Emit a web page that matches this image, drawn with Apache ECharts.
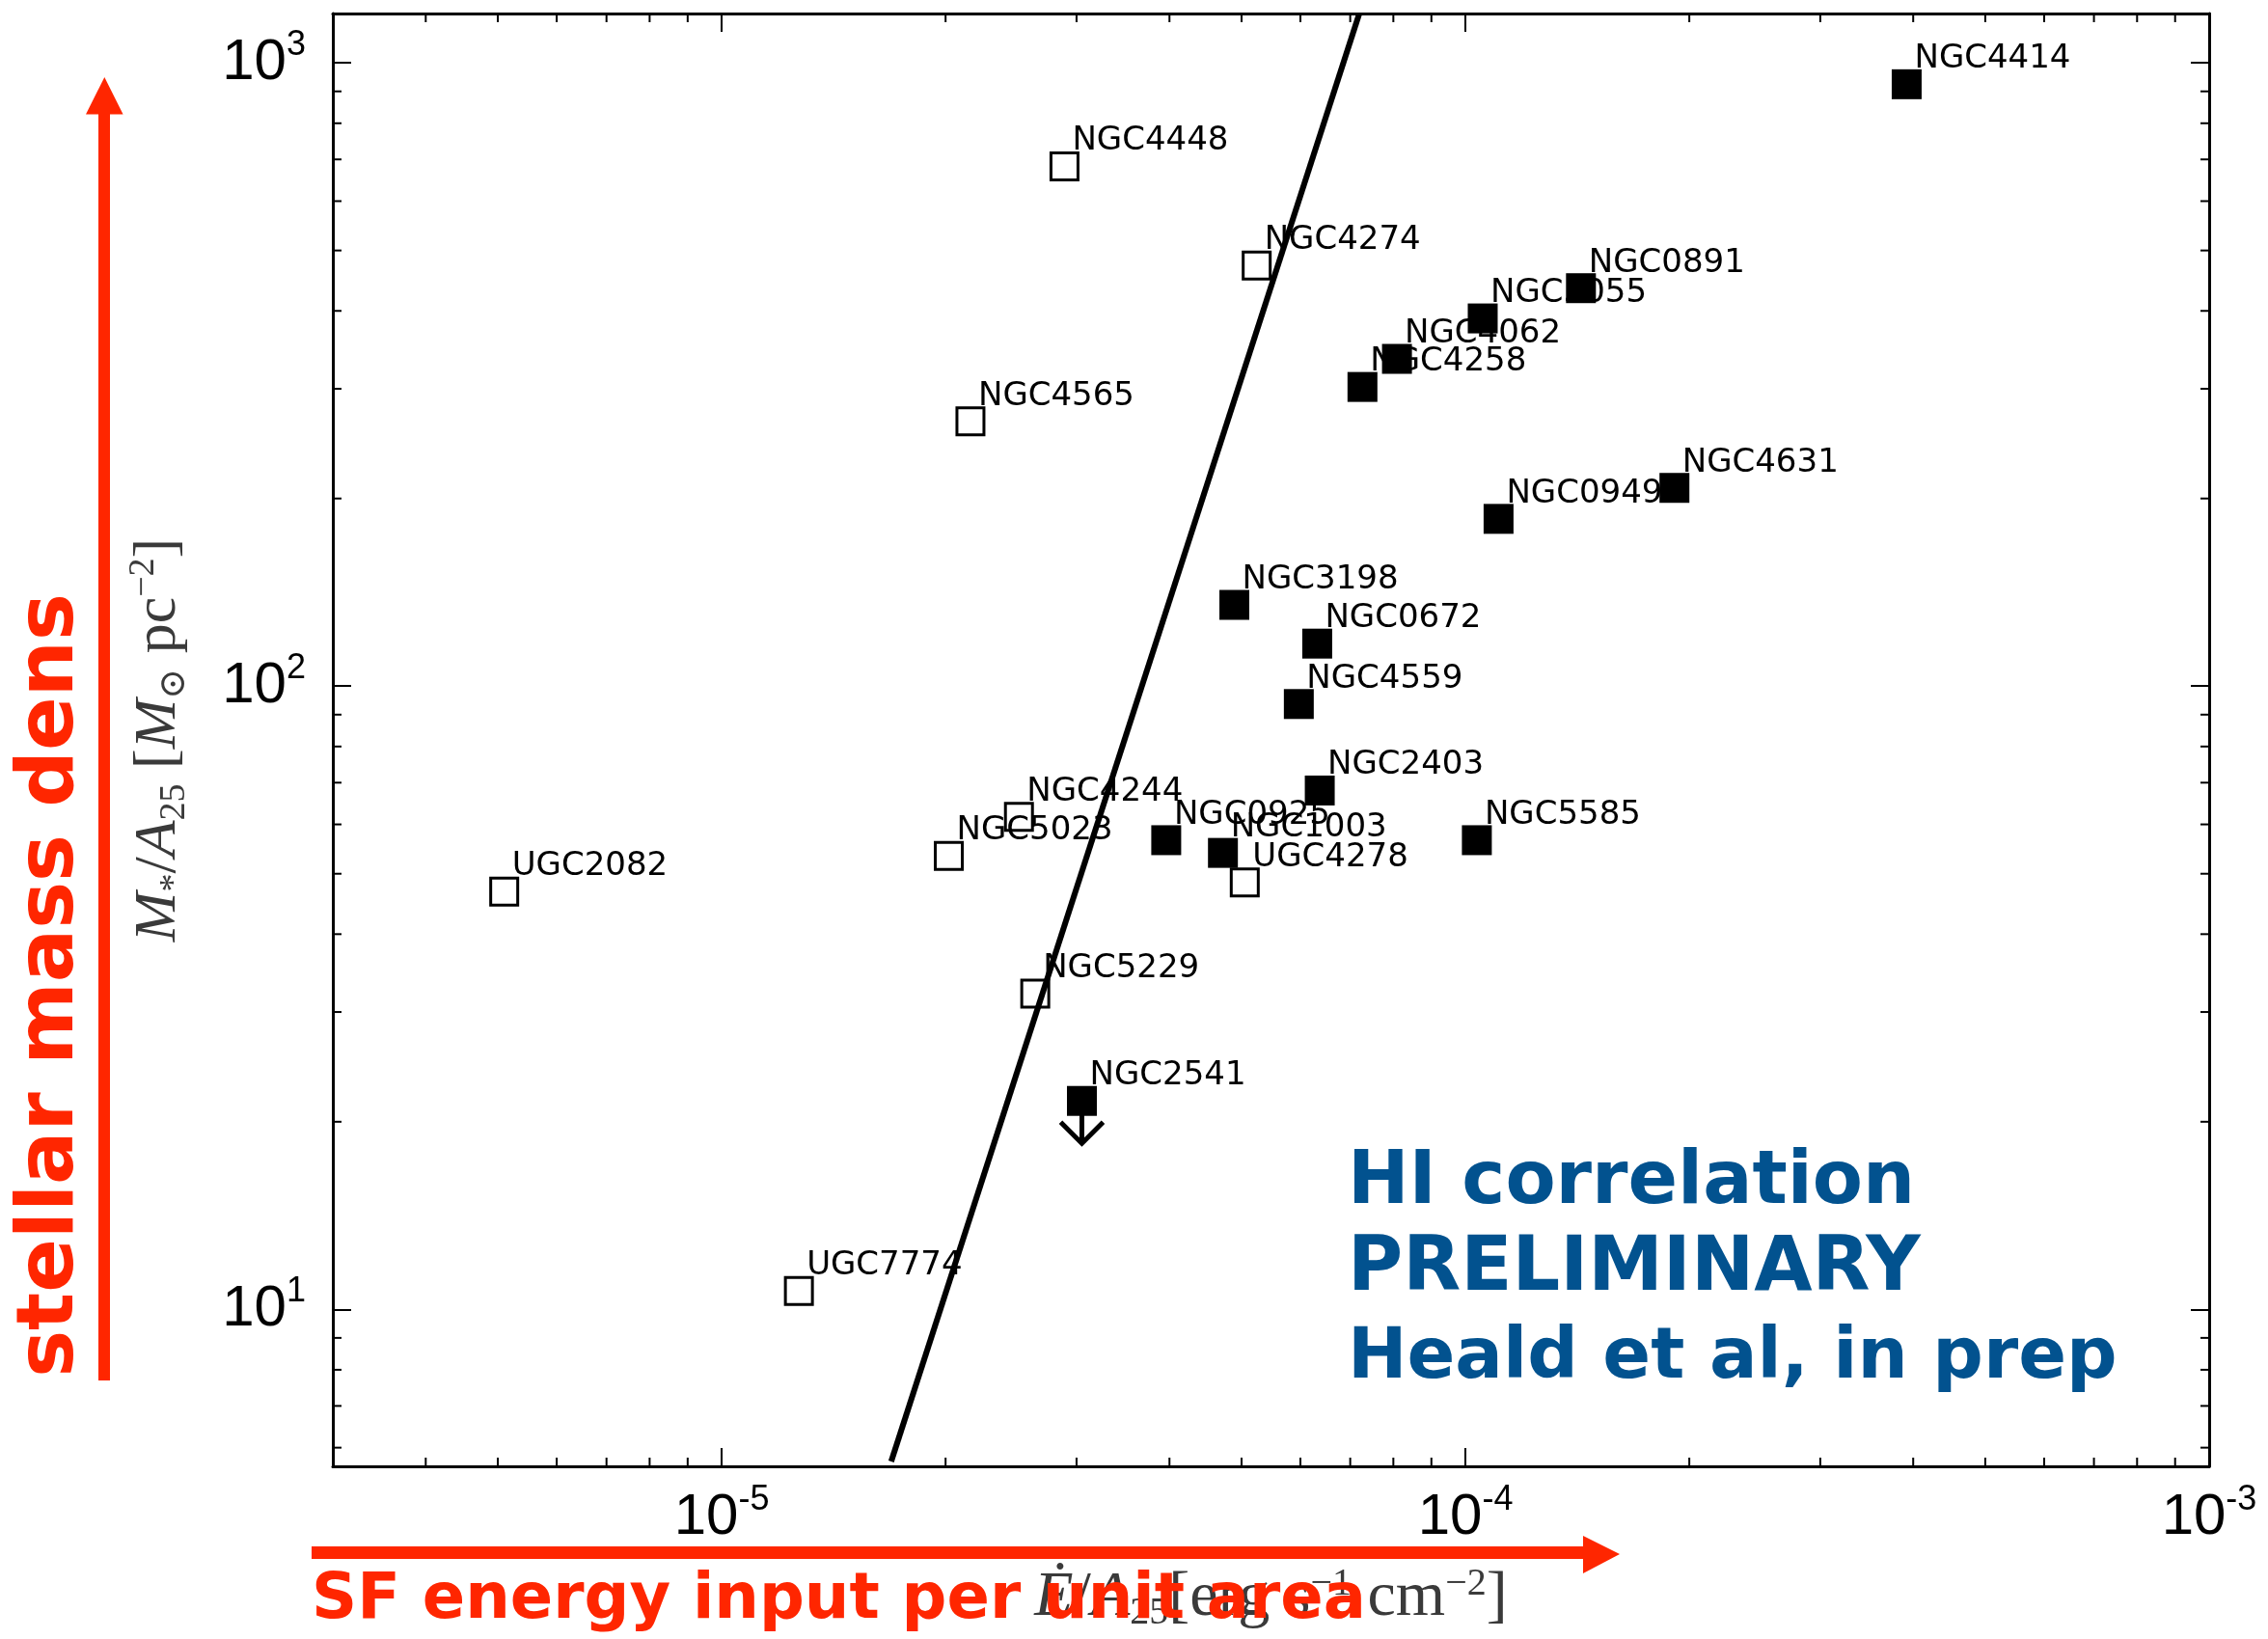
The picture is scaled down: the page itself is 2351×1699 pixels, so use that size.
<!DOCTYPE html>
<html>
<head>
<meta charset="utf-8">
<title>Stellar mass density vs SF energy input</title>
<script src="https://cdn.jsdelivr.net/npm/echarts@6/dist/echarts.min.js"></script>
<style>
  html, body { margin: 0; padding: 0; background: #ffffff; }
  #chart { width: 2351px; height: 1699px; }
</style>
</head>
<body>
<div id="chart"></div>
<script>
// Galaxies without a detected extra-planar HI component (open squares)
const openNames = ['NGC4448', 'NGC4274', 'NGC4565', 'NGC4244', 'NGC5023', 'UGC4278', 'NGC5229', 'UGC2082', 'UGC7774'];
const openX = [2.89e-5, 5.24e-5, 2.16e-5, 2.51e-5, 2.02e-5, 5.05e-5, 2.64e-5, 5.10e-6, 1.27e-5];
const openY = [682, 473, 266, 61.7, 53.4, 48.4, 32.1, 46.8, 10.7];

// Galaxies with a detected component (filled squares)
const filledNames = ['NGC4414', 'NGC0891', 'NGC5055', 'NGC4062', 'NGC4258', 'NGC4631', 'NGC0949', 'NGC3198',
                     'NGC0672', 'NGC4559', 'NGC2403', 'NGC0925', 'NGC1003', 'NGC5585', 'NGC2541'];
const filledX = [3.92e-4, 1.43e-4, 1.055e-4, 8.09e-5, 7.27e-5, 1.91e-4, 1.108e-4, 4.89e-5,
                 6.32e-5, 5.97e-5, 6.37e-5, 3.96e-5, 4.72e-5, 1.036e-4, 3.05e-5];
const filledY = [924, 435, 389, 335, 302, 208, 185.5, 135,
                 117, 93.6, 68, 56.6, 54.0, 56.6, 21.6];

// Points whose stellar mass density is an upper limit
const upperLimitNames = ['NGC2541'];

// Threshold line (end points)
const fitX = [1.69e-5, 7.20e-5];
const fitY = [5.7, 1200];

// Axis ranges and minor tick positions
const xRange = [3e-6, 1e-3];
const yRange = [5.6, 1200];
const xMinorTicks = [4e-6, 5e-6, 6e-6, 7e-6, 8e-6, 9e-6,
                     2e-5, 3e-5, 4e-5, 5e-5, 6e-5, 7e-5, 8e-5, 9e-5,
                     2e-4, 3e-4, 4e-4, 5e-4, 6e-4, 7e-4, 8e-4, 9e-4];
const yMinorTicks = [6, 7, 8, 9, 20, 30, 40, 50, 60, 70, 80, 90,
                     200, 300, 400, 500, 600, 700, 800, 900];

const RED = '#ff2600';
const BLUE = '#02528f';
const TICK_FONT = "'Liberation Sans Narrow', 'Liberation Sans', sans-serif";
const SERIF = "'Liberation Serif', 'DejaVu Serif', serif";

const chart = echarts.init(document.getElementById('chart'), null, { renderer: 'canvas' });

function powLabel(v) {
  const e = Math.log10(v);
  const r = Math.round(e);
  if (Math.abs(e - r) > 1e-6) return '';
  return '{b|10}{s|' + r + '}';
}
const tickRich = {
  b: { fontFamily: TICK_FONT, fontSize: 60, lineHeight: 72, color: '#000' },
  s: { fontFamily: TICK_FONT, fontSize: 36, lineHeight: 35, verticalAlign: 'top', color: '#000' }
};
const nameColor = '#3a3a3a';
const nameRich = {
  i: { fontFamily: SERIF, fontStyle: 'italic', fontSize: 62, lineHeight: 70, color: nameColor },
  r: { fontFamily: SERIF, fontSize: 62, lineHeight: 70, color: nameColor },
  sb: { fontFamily: SERIF, fontSize: 38, lineHeight: 30, verticalAlign: 'bottom', color: nameColor },
  sp: { fontFamily: SERIF, fontSize: 38, lineHeight: 42, verticalAlign: 'top', color: nameColor }
};
const xNameRich = {
  i: Object.assign({}, nameRich.i, { fontSize: 66 }),
  r: Object.assign({}, nameRich.r, { fontSize: 66 }),
  sb: Object.assign({}, nameRich.sb, { fontSize: 40 }),
  sp: Object.assign({}, nameRich.sp, { fontSize: 40 })
};

const frameLine = { show: true, onZero: false, lineStyle: { color: '#000', width: 3 } };
const majorTick = { show: true, inside: true, length: 19, lineStyle: { color: '#000', width: 2 } };

function minorXRender(params, api) {
  const cs = params.coordSys;
  const px = api.coord([api.value(0), api.value(1)])[0];
  const st = { stroke: '#000', lineWidth: 2 };
  return {
    type: 'group',
    children: [
      { type: 'line', shape: { x1: px, y1: cs.y + cs.height, x2: px, y2: cs.y + cs.height - 9 }, style: st },
      { type: 'line', shape: { x1: px, y1: cs.y, x2: px, y2: cs.y + 9 }, style: st }
    ]
  };
}
function minorYRender(params, api) {
  const cs = params.coordSys;
  const py = api.coord([api.value(0), api.value(1)])[1];
  const st = { stroke: '#000', lineWidth: 2 };
  return {
    type: 'group',
    children: [
      { type: 'line', shape: { x1: cs.x, y1: py, x2: cs.x + 9, y2: py }, style: st },
      { type: 'line', shape: { x1: cs.x + cs.width, y1: py, x2: cs.x + cs.width - 9, y2: py }, style: st }
    ]
  };
}

const allNames = openNames.concat(filledNames);
const allX = openX.concat(filledX);
const allY = openY.concat(filledY);

const limitData = upperLimitNames.map(n => {
  const k = filledNames.indexOf(n);
  return { name: n, value: [filledX[k], filledY[k]] };
});

function noteText(text, y, size) {
  return {
    type: 'text', z: 100, x: 1397, y: y,
    style: { text: text, font: 'bold ' + size + "px 'DejaVu Sans'", fill: BLUE,
             align: 'left', verticalAlign: 'middle', textAlign: 'left', textVerticalAlign: 'middle' }
  };
}

const option = {
  animation: false,
  backgroundColor: '#ffffff',
  grid: { left: 345, top: 14, width: 1945, height: 1506, containLabel: false },
  xAxis: [
    {
      type: 'log', logBase: 10, min: xRange[0], max: xRange[1], position: 'bottom',
      axisLine: frameLine, axisTick: majorTick,
      splitLine: { show: false }, minorTick: { show: false },
      axisLabel: { margin: 17, formatter: powLabel, rich: tickRich, showMinLabel: false },
      name: '{i|Ė}{r|/}{i|A}{sb|25}{r|[erg s}{sp|−1}{r| cm}{sp|−2}{r|]}',
      nameLocation: 'middle', nameGap: 102,
      nameTextStyle: { color: nameColor, rich: xNameRich }
    },
    {
      type: 'log', logBase: 10, min: xRange[0], max: xRange[1], position: 'top',
      axisLine: frameLine, axisTick: majorTick,
      splitLine: { show: false }, axisLabel: { show: false }
    }
  ],
  yAxis: [
    {
      type: 'log', logBase: 10, min: yRange[0], max: yRange[1], position: 'left',
      axisLine: frameLine, axisTick: majorTick,
      splitLine: { show: false }, minorTick: { show: false },
      axisLabel: { margin: 28, formatter: powLabel, rich: tickRich, showMinLabel: false, showMaxLabel: false },
      name: '{i|M}{sb|*}{r|/}{i|A}{sb|25}{r| [}{i|M}{sb|⊙}{r| pc}{sp|−2}{r|]}',
      nameLocation: 'middle', nameGap: 145, nameRotate: 90,
      nameTextStyle: { color: nameColor, rich: nameRich }
    },
    {
      type: 'log', logBase: 10, min: yRange[0], max: yRange[1], position: 'right',
      axisLine: frameLine, axisTick: majorTick,
      splitLine: { show: false }, axisLabel: { show: false }
    }
  ],
  series: [
    {
      type: 'custom', name: 'x minor ticks', xAxisIndex: 0, yAxisIndex: 0, silent: true, z: 1,
      renderItem: minorXRender, data: xMinorTicks.map(v => [v, 100])
    },
    {
      type: 'custom', name: 'y minor ticks', xAxisIndex: 0, yAxisIndex: 0, silent: true, z: 1,
      renderItem: minorYRender, data: yMinorTicks.map(v => [1e-4, v])
    },
    {
      // galaxy names, drawn beneath the markers
      type: 'scatter', name: 'names', z: 2, silent: true,
      symbol: 'rect', symbolSize: 1,
      itemStyle: { color: 'rgba(0,0,0,0)', opacity: 1 },
      label: {
        show: true, position: 'inside', formatter: '{b}',
        align: 'left', verticalAlign: 'middle', offset: [8, -26],
        fontFamily: "'DejaVu Sans', sans-serif", fontSize: 34, color: '#000'
      },
      data: allNames.map((n, k) => ({ name: n, value: [allX[k], allY[k]] }))
    },
    {
      type: 'scatter', name: 'non-detections', z: 3,
      symbol: 'rect', symbolSize: 28,
      itemStyle: { color: 'rgba(0,0,0,0)', borderColor: '#000', borderWidth: 3, opacity: 1 },
      data: openNames.map((n, k) => ({ name: n, value: [openX[k], openY[k]] }))
    },
    {
      type: 'scatter', name: 'detections', z: 4,
      symbol: 'rect', symbolSize: 31,
      itemStyle: { color: '#000', opacity: 1 },
      data: filledNames.map((n, k) => ({ name: n, value: [filledX[k], filledY[k]] }))
    },
    {
      type: 'scatter', name: 'upper limits', z: 4,
      symbol: 'path://M23,0 L23,44 M1,22 L23,44 L45,22',
      symbolSize: [44, 44], symbolOffset: [0, 22], symbolKeepAspect: true,
      itemStyle: { color: 'none', borderColor: '#000', borderWidth: 5, opacity: 1 },
      data: limitData
    },
    {
      type: 'line', name: 'threshold', z: 6, clip: true,
      symbol: 'none', lineStyle: { color: '#000', width: 6, opacity: 1 },
      data: fitX.map((x, k) => [x, fitY[k]])
    }
  ],
  graphic: [
    // vertical arrow and label
    { type: 'rect', z: 100, shape: { x: 102, y: 116, width: 12, height: 1315 }, style: { fill: RED } },
    { type: 'polygon', z: 100, shape: { points: [[89, 118.5], [127.6, 118.5], [108.3, 80]] }, style: { fill: RED } },
    {
      type: 'text', z: 100, x: 54, y: 1021.5, rotation: Math.PI / 2,
      style: { text: 'stellar mass dens', font: "bold 82px 'DejaVu Sans'", fill: RED,
               align: 'center', verticalAlign: 'middle', textAlign: 'center', textVerticalAlign: 'middle' }
    },
    // horizontal arrow and label
    { type: 'rect', z: 100, shape: { x: 323, y: 1603, width: 1320, height: 13 }, style: { fill: RED } },
    { type: 'polygon', z: 100, shape: { points: [[1641, 1592], [1641, 1631], [1679, 1611]] }, style: { fill: RED } },
    {
      type: 'text', z: 100, x: 323, y: 1660,
      style: { text: 'SF energy input per unit area', font: "bold 65.5px 'DejaVu Sans'", fill: RED,
               align: 'left', verticalAlign: 'middle', textAlign: 'left', textVerticalAlign: 'middle' }
    },
    // note in the lower right
    noteText('HI correlation', 1227, 76),
    noteText('PRELIMINARY', 1317, 78),
    noteText('Heald et al, in prep', 1409, 73.5)
  ]
};

chart.setOption(option);
</script>
</body>
</html>
